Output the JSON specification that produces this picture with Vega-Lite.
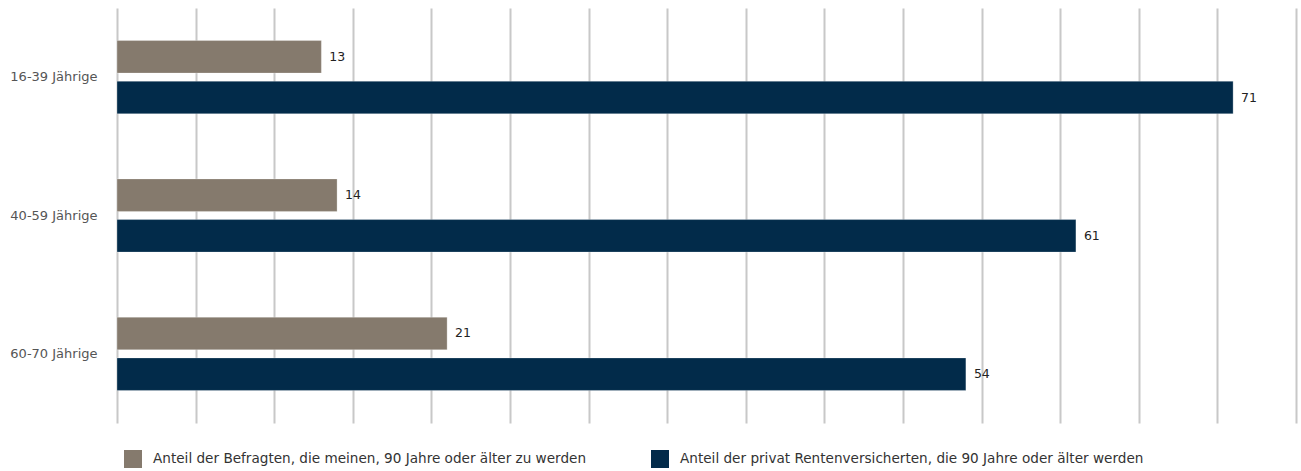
{
  "$schema": "https://vega.github.io/schema/vega-lite/v6.json",
  "width": 1179,
  "height": 415,
  "autosize": {"type": "none"},
  "padding": {"left": 117, "top": 8, "right": 5, "bottom": 48},
  "background": "white",
  "config": {
    "view": {"stroke": null},
    "font": "DejaVu Sans"
  },
  "data": {
    "values": [
      {"gruppe": "16-39 Jährige", "serie": "Anteil der Befragten, die meinen, 90 Jahre oder älter zu werden", "wert": 13},
      {"gruppe": "16-39 Jährige", "serie": "Anteil der privat Rentenversicherten, die 90 Jahre oder älter werden", "wert": 71},
      {"gruppe": "40-59 Jährige", "serie": "Anteil der Befragten, die meinen, 90 Jahre oder älter zu werden", "wert": 14},
      {"gruppe": "40-59 Jährige", "serie": "Anteil der privat Rentenversicherten, die 90 Jahre oder älter werden", "wert": 61},
      {"gruppe": "60-70 Jährige", "serie": "Anteil der Befragten, die meinen, 90 Jahre oder älter zu werden", "wert": 21},
      {"gruppe": "60-70 Jährige", "serie": "Anteil der privat Rentenversicherten, die 90 Jahre oder älter werden", "wert": 54}
    ]
  },
  "encoding": {
    "y": {
      "field": "gruppe", "type": "nominal",
      "scale": {"paddingInner": 0, "paddingOuter": 0},
      "axis": {"title": null, "ticks": false, "domain": false, "labelPadding": 20, "labelFontSize": 13, "labelColor": "#555555", "labelFont": "DejaVu Sans"}
    },
    "yOffset": {
      "field": "serie", "type": "nominal",
      "scale": {"paddingInner": 0.2, "paddingOuter": 0.8}
    },
    "x": {
      "field": "wert", "type": "quantitative",
      "scale": {"domain": [0, 75], "nice": false},
      "axis": {"title": null, "labels": false, "ticks": false, "domain": false, "values": [0,5,10,15,20,25,30,35,40,45,50,55,60,65,70,75], "grid": true, "gridColor": "#c8c8c8", "gridWidth": 2}
    }
  },
  "layer": [
    {
      "mark": {"type": "bar", "stroke": "#ffffff", "strokeWidth": 0.8, "strokeOpacity": 0.35},
      "encoding": {
        "color": {
          "field": "serie", "type": "nominal",
          "scale": {"range": ["#857a6d", "#022b4a"]},
          "legend": {
            "title": null, "orient": "none", "legendX": 7, "legendY": 442,
            "direction": "horizontal", "columns": 2, "columnPadding": 64,
            "symbolType": "square", "symbolSize": 324, "symbolStrokeWidth": 0,
            "labelFontSize": 13.6, "labelColor": "#333333", "labelOffset": 11, "labelLimit": 700,
            "labelFont": "DejaVu Sans"
          }
        }
      }
    },
    {
      "mark": {"type": "text", "align": "left", "baseline": "middle", "dx": 8, "fontSize": 12.5, "color": "#222222"},
      "encoding": {"text": {"field": "wert", "type": "quantitative"}}
    }
  ]
}
